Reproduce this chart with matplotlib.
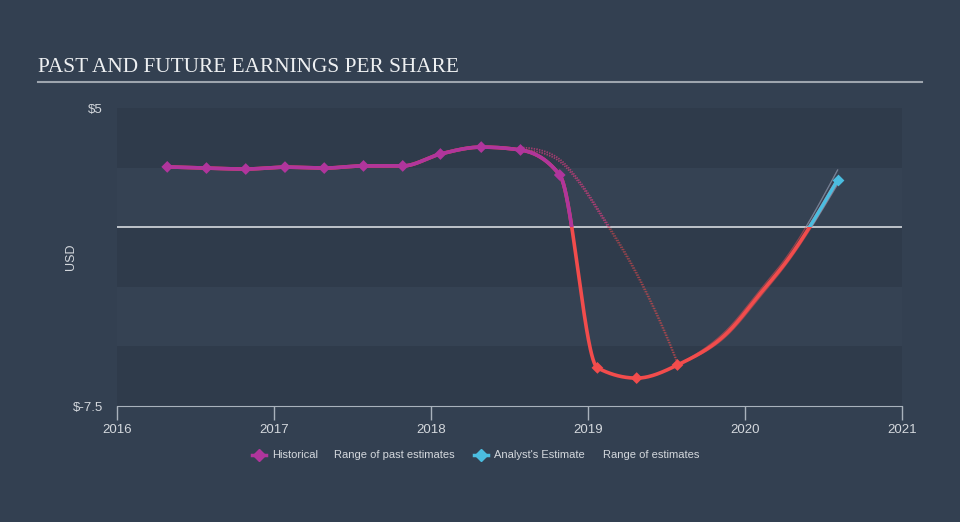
import numpy as np
import matplotlib
matplotlib.use("Agg")
from matplotlib import pyplot as plt
from matplotlib.patches import Rectangle
from matplotlib.lines import Line2D

# historical EPS (year, USD)
hist_x = [2016.32, 2016.57, 2016.82, 2017.07, 2017.32, 2017.57, 2017.82,
          2018.06, 2018.32, 2018.57, 2018.82, 2019.06, 2019.31, 2019.57]
hist_y = [2.53, 2.48, 2.44, 2.52, 2.48, 2.57, 2.57,
          3.07, 3.36, 3.24, 2.19, -5.90, -6.33, -5.78]

# analyst estimate path (last actual -> forecast)
est_x = [2019.57, 2019.885, 2020.10, 2020.27, 2020.59]
est_y = [-5.78, -4.44, -2.76, -1.38, 1.98]
est_hi = [-5.78, -4.30, -2.60, -1.20, 2.40]
est_lo = [-5.78, -4.55, -2.90, -1.50, 1.80]

# range of past estimates
past_x = [2018.57, 2018.70, 2018.82, 2018.95, 2019.08, 2019.33, 2019.54, 2019.57]
past_y = [3.30, 3.18, 2.80, 1.85, 0.55, -2.20, -5.20, -5.70]

years = [2016, 2017, 2018, 2019, 2020, 2021]
ymin, ymax = -7.5, 5

BG = "#334051"
MAG = "#b0359c"
RED = "#f24c4c"
BLUE = "#4bbde0"
TXT = "#d4d8dd"
SANS = ["Liberation Sans", "DejaVu Sans"]


def monotone(xs, ys, n=60):
    # same shape as a d3 monotoneX curve
    xs = np.asarray(xs, float)
    ys = np.asarray(ys, float)
    h = np.diff(xs)
    s = np.diff(ys) / h
    m = np.zeros(len(xs))
    for i in range(1, len(xs) - 1):
        p = (s[i - 1] * h[i] + s[i] * h[i - 1]) / (h[i - 1] + h[i])
        m[i] = (np.sign(s[i - 1]) + np.sign(s[i])) * min(abs(s[i - 1]), abs(s[i]), 0.5 * abs(p))
    if len(xs) > 2:
        m[0] = (3 * s[0] - m[1]) / 2
        m[-1] = (3 * s[-1] - m[-2]) / 2
    else:
        m[0] = m[-1] = s[0]
    ox, oy = [], []
    for i in range(len(xs) - 1):
        t = np.linspace(0, 1, n)
        h00 = 2 * t**3 - 3 * t**2 + 1
        h10 = t**3 - 2 * t**2 + t
        h01 = -2 * t**3 + 3 * t**2
        h11 = t**3 - t**2
        ox.append(xs[i] + t * h[i])
        oy.append(h00 * ys[i] + h10 * h[i] * m[i] + h01 * ys[i + 1] + h11 * h[i] * m[i + 1])
    return np.concatenate(ox), np.concatenate(oy)


def split_line(ax, x, y, pos_color, neg_color, **kw):
    ax.plot(x, y, color=neg_color, **kw)
    ln, = ax.plot(x, y, color=pos_color, **kw)
    clip = Rectangle((2000, 0), 50, 50, transform=ax.transData)
    ln.set_clip_path(clip)


fig = plt.figure(figsize=(9.6, 5.22), dpi=100)
fig.patch.set_facecolor(BG)
ax = fig.add_axes([117 / 960, 1 - 406 / 522, 785 / 960, 298 / 522])
ax.set_facecolor("#344152")

# alternating horizontal bands
edges = np.arange(ymax, ymin - 0.01, -2.5)
for i in range(len(edges) - 1):
    c = "#2f3b4b" if i % 2 == 0 else "#354253"
    ax.axhspan(edges[i + 1], edges[i], color=c, lw=0, zorder=0)

ax.axhline(0, color="#c9ced4", lw=1.3, zorder=1)

# range of past estimates
px, py = monotone(past_x, past_y)
for off in (-0.05, 0.05):
    split_line(ax, px, py + off, MAG, RED, lw=1.2, ls=(0, (0.8, 0.8)), alpha=0.5, zorder=2)

# range of estimates
for arr in (est_hi, est_lo):
    ex, ey = monotone(est_x, arr)
    split_line(ax, ex, ey, BLUE, RED, lw=0.9, alpha=0.5, zorder=2)

# historical line
hx, hy = monotone(hist_x, hist_y)
split_line(ax, hx, hy, MAG, RED, lw=2.6, zorder=3, solid_capstyle="round")

# estimate line
ex, ey = monotone(est_x, est_y)
split_line(ax, ex, ey, BLUE, RED, lw=2.6, zorder=3, solid_capstyle="round")

hcols = [MAG if v >= 0 else RED for v in hist_y]
ax.scatter(hist_x, hist_y, marker="D", s=36, c=hcols, lw=0, zorder=4)
ax.scatter(est_x[-1:], est_y[-1:], marker="D", s=36, c=BLUE, lw=0, zorder=4)

ax.set_xlim(2016, 2021)
ax.set_ylim(ymin, ymax)
ax.set_xticks(years)
ax.set_xticklabels([str(y) for y in years])
ax.set_yticks([ymin, ymax])
ax.set_yticklabels(["$-7.5", "$5"])
for sp in ("top", "right", "left"):
    ax.spines[sp].set_visible(False)
ax.spines["bottom"].set_color("#a9b2bc")
ax.tick_params(axis="x", colors="#a9b2bc", length=10, width=1, labelcolor=TXT, labelsize=9.5, pad=3)
ax.tick_params(axis="y", length=0, labelcolor=TXT, labelsize=9.5, pad=10)
for lab in ax.get_xticklabels() + ax.get_yticklabels():
    lab.set_fontfamily(SANS)
ax.set_ylabel("USD", color=TXT, fontsize=9, family=SANS)
ax.yaxis.set_label_coords(-0.051, 0.5)

# title and underline
fig.text(38 / 960, 1 - 67 / 522, "PAST AND FUTURE EARNINGS PER SHARE", color="#eef0f2",
         fontsize=15.3, family="Liberation Serif", va="center", ha="left")
fig.add_artist(Line2D([38 / 960, 922 / 960], [1 - 82 / 522, 1 - 82 / 522],
                      color="#9ea5ae", lw=1.5, transform=fig.transFigure))

# legend, placed by hand
ly = 1 - 455 / 522
for x0, col in ((252, MAG), (474, BLUE)):
    fig.add_artist(Line2D([x0 / 960, (x0 + 14) / 960], [ly, ly], color=col, lw=2.5,
                          transform=fig.transFigure))
    fig.add_artist(Line2D([(x0 + 7) / 960], [ly], color=col, marker="D", ms=6, lw=0,
                          transform=fig.transFigure))
for x0, txt in ((272, "Historical"), (334, "Range of past estimates"),
                (494, "Analyst's Estimate"), (603, "Range of estimates")):
    fig.text(x0 / 960, ly, txt, color=TXT, fontsize=8, family=SANS, va="center", ha="left")

fig.savefig("out.png", dpi=100, facecolor=BG)
